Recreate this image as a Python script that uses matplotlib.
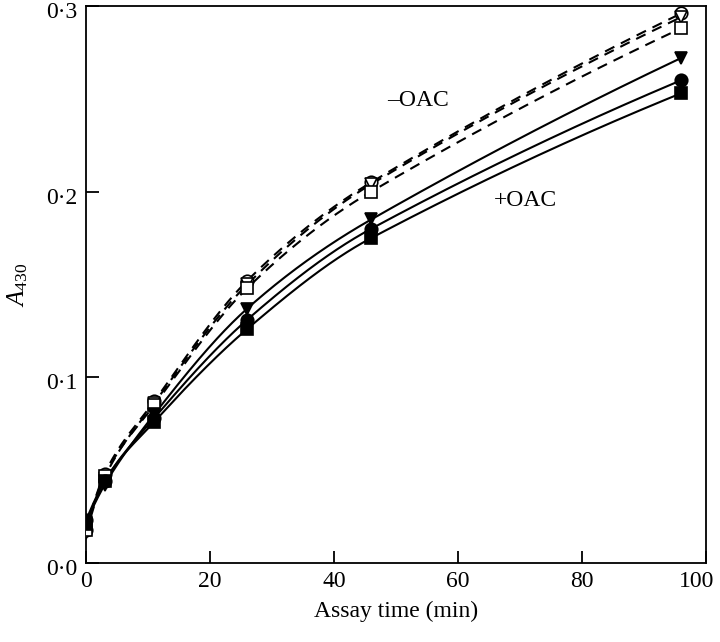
import numpy as np
import matplotlib
matplotlib.use("Agg")
import matplotlib.pyplot as plt
import matplotlib.transforms as mtransforms
from matplotlib.ticker import FuncFormatter

plt.rcParams['font.family'] = ['Liberation Serif', 'DejaVu Serif']
plt.rcParams['mathtext.fontset'] = 'custom'
plt.rcParams['mathtext.rm'] = 'Liberation Serif'
plt.rcParams['mathtext.it'] = 'Liberation Serif:italic'

time = [0, 3, 11, 26, 46, 96]
open_circle = [0.018, 0.048, 0.087, 0.152, 0.205, 0.296]
open_triangle = [0.016, 0.046, 0.086, 0.150, 0.204, 0.294]
open_square = [0.018, 0.047, 0.085, 0.148, 0.200, 0.288]
filled_triangle = [0.022, 0.042, 0.080, 0.137, 0.185, 0.272]
filled_circle = [0.023, 0.044, 0.078, 0.131, 0.180, 0.260]
filled_square = [0.021, 0.044, 0.076, 0.126, 0.175, 0.253]


def smooth_curve(x, y, xs):
    """Monotone cubic Hermite curve with a nearly straight last segment."""
    x = np.asarray(x, float); y = np.asarray(y, float)
    h = np.diff(x); d = np.diff(y) / h
    n = len(x); m = np.zeros(n)
    for k in range(1, n - 1):
        if d[k - 1] * d[k] > 0:
            w1 = 2 * h[k] + h[k - 1]; w2 = h[k] + 2 * h[k - 1]
            m[k] = (w1 + w2) / (w1 / d[k - 1] + w2 / d[k])
    m[0] = ((2 * h[0] + h[1]) * d[0] - h[0] * d[1]) / (h[0] + h[1])
    if np.sign(m[0]) != np.sign(d[0]):
        m[0] = 0
    m[-2] = 0.5 * (m[-2] + d[-1])
    m[-1] = 2 * d[-1] - m[-2]
    out = np.empty_like(xs)
    for i, xv in enumerate(xs):
        k = int(np.clip(np.searchsorted(x, xv, side='right') - 1, 0, n - 2))
        t = (xv - x[k]) / h[k]
        h00 = 2 * t**3 - 3 * t**2 + 1; h10 = t**3 - 2 * t**2 + t
        h01 = -2 * t**3 + 3 * t**2; h11 = t**3 - t**2
        out[i] = h00 * y[k] + h10 * h[k] * m[k] + h01 * y[k + 1] + h11 * h[k] * m[k + 1]
    return out


fig = plt.figure(figsize=(7.2, 6.42), dpi=100)
ax = fig.add_axes([0.1194, 0.1231, 0.8612, 0.8676])

xs = np.linspace(0, 96, 400)
series = [
    (open_circle, 'o', 'white', '--'),
    (open_triangle, 'v', 'white', '--'),
    (open_square, 's', 'white', '--'),
    (filled_triangle, 'v', 'black', '-'),
    (filled_circle, 'o', 'black', '-'),
    (filled_square, 's', 'black', '-'),
]
for y, mk, fc, ls in series:
    if ls == '--':
        ax.plot(xs, smooth_curve(time, y, xs), color='black', lw=1.5,
                ls='--', dashes=(5, 3.5), zorder=2)
    else:
        ax.plot(xs, smooth_curve(time, y, xs), color='black', lw=1.5, zorder=2)
for y, mk, fc, ls in series:
    ax.plot(time, y, ls='none', marker=mk, ms=9, mfc=fc, mec='black', mew=1.2, zorder=3)

ax.set_xlim(0, 100)
ax.set_ylim(0, 0.3)
ax.set_xticks([0, 20, 40, 60, 80, 100])
ax.set_yticks([0, 0.1, 0.2, 0.3])
ax.yaxis.set_major_formatter(FuncFormatter(lambda v, p: f"{v:.1f}".replace('.', '·')))
ax.tick_params(direction='in', length=9, width=1.3, labelsize=17, colors='black', pad=6)
for s in ax.spines.values():
    s.set_linewidth(1.3)

offset = mtransforms.ScaledTranslation(0, -3 / 72, fig.dpi_scale_trans)
for lab in ax.get_yticklabels():
    lab.set_transform(lab.get_transform() + offset)
xlabs = ax.get_xticklabels()
xlabs[-1].set_transform(xlabs[-1].get_transform() +
                        mtransforms.ScaledTranslation(-7 / 72, 0, fig.dpi_scale_trans))

ax.set_xlabel('Assay time (min)', fontsize=17, labelpad=6)
ax.set_ylabel(r'$\mathit{A}_{\mathrm{430}}$', fontsize=18, labelpad=12)
ax.text(53.5, 0.249, '\u2013OAC', fontsize=17, ha='center', va='center')
ax.text(70.8, 0.195, '+OAC', fontsize=17, ha='center', va='center')

fig.savefig('out.png', dpi=100)
